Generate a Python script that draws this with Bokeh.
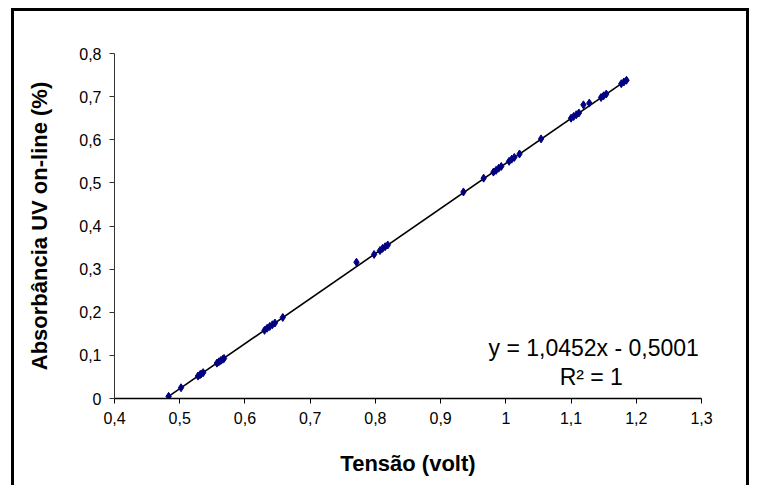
from bokeh.plotting import figure
from bokeh.models import Range1d, FixedTicker, CustomJSTickFormatter, Label
from bokeh.embed import file_html
from bokeh.resources import INLINE

# ---- data ----
tensao = [0.483, 0.502, 0.528, 0.531, 0.533, 0.536,
          0.557, 0.560, 0.563, 0.566, 0.568,
          0.630, 0.634, 0.638, 0.642, 0.646, 0.658,
          0.771, 0.798, 0.807, 0.811, 0.815, 0.819,
          0.935, 0.966, 0.981, 0.985, 0.989, 0.993,
          1.005, 1.009, 1.013, 1.021, 1.054,
          1.100, 1.104, 1.108, 1.112, 1.119, 1.128,
          1.146, 1.150, 1.154, 1.177, 1.181, 1.185]
absorbancia = [0.005, 0.025, 0.052, 0.055, 0.057, 0.060,
               0.082, 0.085, 0.088, 0.091, 0.093,
               0.158, 0.163, 0.167, 0.171, 0.175, 0.188,
               0.316, 0.334, 0.343, 0.348, 0.352, 0.356,
               0.479, 0.511, 0.525, 0.529, 0.534, 0.538,
               0.550, 0.555, 0.559, 0.567, 0.602,
               0.650, 0.654, 0.658, 0.662, 0.681, 0.685,
               0.698, 0.702, 0.706, 0.730, 0.734, 0.738]
slope = 1.0452
intercept = -0.5001
x_ticks = [0.4, 0.5, 0.6, 0.7, 0.8, 0.9, 1.0, 1.1, 1.2, 1.3]
y_ticks = [0, 0.1, 0.2, 0.3, 0.4, 0.5, 0.6, 0.7, 0.8]
eq_text = "y = 1,0452x - 0,5001"
r2_text = "R\u00b2 = 1"

FONT = "Liberation Sans"

p = figure(width=738, height=477, output_backend="svg", toolbar_location=None,
           x_range=Range1d(0.4, 1.3), y_range=Range1d(0, 0.8),
           min_border_left=100, min_border_top=42, min_border_right=51,
           min_border_bottom=90)
p.margin = (8, 0, 0, 11)
p.styles = {"border-left": "3px solid black", "border-top": "3px solid black",
            "border-right": "3px solid black"}
p.outline_line_color = None
p.xgrid.visible = False
p.ygrid.visible = False
p.background_fill_color = "white"
p.border_fill_color = "white"

fmt = CustomJSTickFormatter(code="return (Math.round(tick*10)/10).toString().replace('.', ',');")
for ax, ticks in ((p.xaxis[0], x_ticks), (p.yaxis[0], y_ticks)):
    ax.ticker = FixedTicker(ticks=ticks)
    ax.formatter = fmt
    ax.minor_tick_line_color = None
    ax.major_tick_in = 0
    ax.major_tick_out = 5
    ax.major_label_text_font = FONT
    ax.major_label_text_font_size = "16px"
    ax.major_label_text_color = "black"
    ax.axis_label_text_font = FONT
    ax.axis_label_text_font_style = "bold"
    ax.axis_label_text_font_size = "22px"
    ax.axis_label_text_color = "black"

p.xaxis.axis_label = "Tensão (volt)"
p.yaxis.axis_label = "Absorbância UV on-line (%)"
p.xaxis.axis_line_width = 1.5
p.xaxis.axis_line_color = "black"
p.xaxis.major_tick_line_color = "black"
p.yaxis.axis_line_color = "#333333"
p.yaxis.major_tick_line_color = "#333333"
p.xaxis.major_label_standoff = 8
p.yaxis.major_label_standoff = 8
p.xaxis.axis_label_standoff = 24
p.yaxis.axis_label_standoff = 24

# trendline across the data range
x0, x1 = min(tensao), max(tensao)
p.line([x0, x1], [slope * x0 + intercept, slope * x1 + intercept],
       line_color="black", line_width=1.6)

p.scatter(tensao, absorbancia, marker="diamond", size=8,
          fill_color="#000080", line_color="#000080")

p.add_layout(Label(x=1.296, y=0.118, text=eq_text, text_align="right",
                   text_baseline="middle", text_font=FONT, text_font_size="23px",
                   text_color="black"))
p.add_layout(Label(x=1.131, y=0.049, text=r2_text, text_align="center",
                   text_baseline="middle", text_font=FONT, text_font_size="23px",
                   text_color="black"))

open("out.html", "w").write(file_html(p, INLINE))
